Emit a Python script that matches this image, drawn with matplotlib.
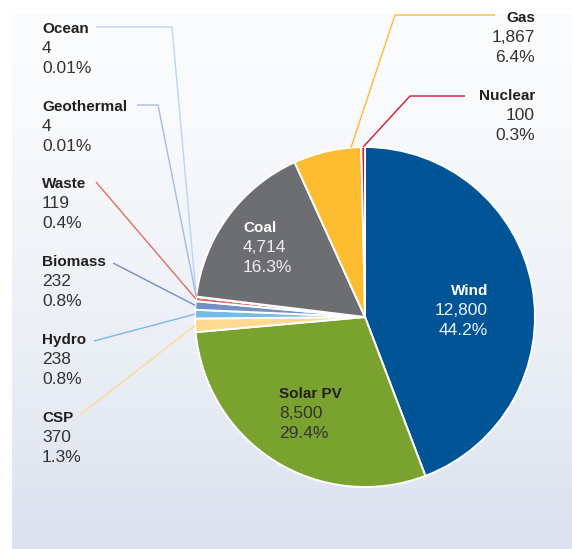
import numpy as np
import matplotlib
matplotlib.use('Agg')
import matplotlib.pyplot as plt
from matplotlib.colors import to_rgb

# data (clockwise from 12 o'clock)
sources = ['Wind', 'Solar PV', 'CSP', 'Hydro', 'Biomass', 'Waste',
           'Geothermal', 'Ocean', 'Coal', 'Gas', 'Nuclear']
values = [12800, 8500, 370, 238, 232, 119, 4, 4, 4714, 1867, 100]
pct_labels = ['44.2%', '29.4%', '1.3%', '0.8%', '0.8%', '0.4%',
              '0.01%', '0.01%', '16.3%', '6.4%', '0.3%']
colors = ['#015596', '#7aa22f', '#fdd993', '#74bbe8', '#7190c6', '#e06f5f',
          '#a9b9dc', '#bcd5f0', '#6d6e71', '#fdbb30', '#cc1a2e']

W, H = 572, 549
plt.rcParams['font.family'] = ['Liberation Sans', 'DejaVu Sans']

fig = plt.figure(figsize=(W / 100, H / 100), dpi=100)
ax = fig.add_axes([0, 0, 1, 1])

# background panel gradient
top = np.array(to_rgb('#fbfcfd'))
bot = np.array(to_rgb('#dbe2ee'))
t = np.linspace(0, 1, 256) ** 1.4
grad = (top[None, :] * (1 - t[:, None]) + bot[None, :] * t[:, None])[:, None, :]
ax.imshow(grad, extent=[12, W, 0, H - 14], aspect='auto', origin='upper', zorder=0)

cx, cy, R = 365, H - 317, 170
wedges, _ = ax.pie(values, colors=colors, startangle=90, counterclock=False,
                   center=(cx, cy), radius=R,
                   wedgeprops=dict(edgecolor='white', linewidth=1.4, zorder=2))
ax.set_xlim(0, W)
ax.set_ylim(0, H)
ax.set_aspect('auto')
ax.axis('off')

name_kw = dict(fontsize=11, fontweight='bold')
num_kw = dict(fontsize=12.5)


def block(x, y, i, ha='left', c1='#231f20', c2='#333333'):
    # three lines: name, value, percent (y = baseline of first line, in px from top)
    ax.text(x, H - y, sources[i], ha=ha, va='baseline', color=c1, zorder=5, **name_kw)
    ax.text(x, H - y - 20, f'{values[i]:,}', ha=ha, va='baseline', color=c2, zorder=5, **num_kw)
    ax.text(x, H - y - 40, pct_labels[i], ha=ha, va='baseline', color=c2, zorder=5, **num_kw)


def anchor(i, frac=0.5):
    w = wedges[i]
    th = np.deg2rad(w.theta1 + frac * (w.theta2 - w.theta1))
    return cx + R * np.cos(th), cy + R * np.sin(th)


# labels inside the pie
block(488, 295, 0, ha='right', c1='white', c2='#eef2f8')
block(279, 398, 1)
block(243, 232, 8, c1='white', c2='#eeeeee')

# outside labels with leader lines: (index, text x, baseline y, ha, line path points, anchor frac)
outside = [
    (7, 42, 33, 'left', [(96, 27), (172, 27)], 0.5),
    (6, 42, 111, 'left', [(137, 105), (158, 105)], 0.5),
    (5, 42, 188, 'left', [(96, 182)], 0.5),
    (4, 42, 266, 'left', [(113, 263)], 0.5),
    (3, 42, 344, 'left', [(94, 341)], 0.5),
    (2, 42, 422, 'left', [(81, 414)], 0.5),
    (9, 535, 22, 'right', [(495, 15), (395, 15)], 0.15),
    (10, 535, 100, 'right', [(465, 96), (410, 96)], 0.5),
]
for i, x, y, ha, pts, frac in outside:
    block(x, y, i, ha=ha)
    xs = [p[0] for p in pts]
    ys = [H - p[1] for p in pts]
    ax_, ay_ = anchor(i, frac)
    xs.append(ax_)
    ys.append(ay_)
    ax.plot(xs, ys, color=colors[i], lw=1.0, zorder=3, solid_capstyle='butt')

fig.savefig('out.png', dpi=100)
